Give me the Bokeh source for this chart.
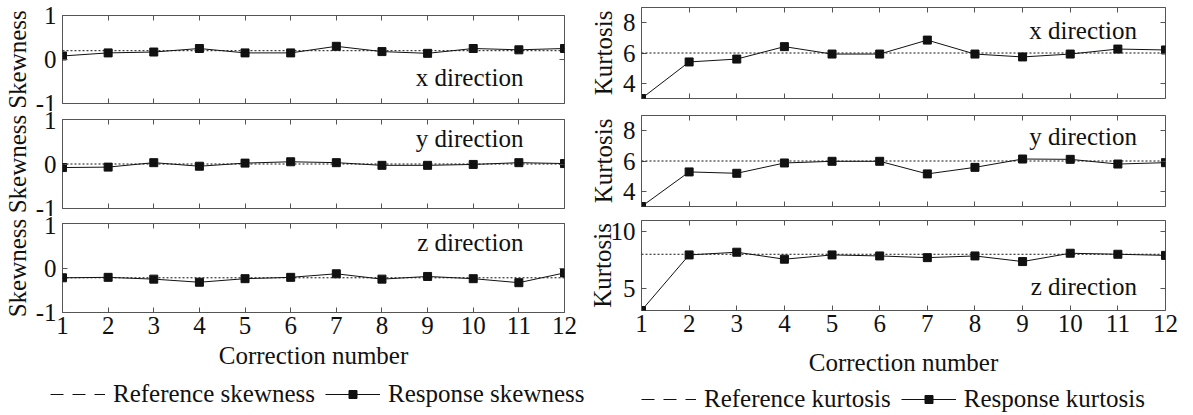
from bokeh.plotting import figure
from bokeh.models import (Range1d, FixedTicker, LinearAxis, Label, Legend,
                          LegendItem, Span)
from bokeh.layouts import row, column
from bokeh.embed import file_html
from bokeh.resources import INLINE

# ---------------- data ----------------
corrections = [1, 2, 3, 4, 5, 6, 7, 8, 9, 10, 11, 12]

skew_x = [0.08, 0.15, 0.17, 0.25, 0.15, 0.15, 0.30, 0.18, 0.14, 0.25, 0.22, 0.25]
skew_y = [-0.08, -0.07, 0.03, -0.05, 0.02, 0.05, 0.03, -0.03, -0.03, -0.01, 0.03, 0.01]
skew_z = [-0.22, -0.21, -0.25, -0.32, -0.24, -0.21, -0.13, -0.25, -0.19, -0.24, -0.33, -0.11]
skew_ref = [0.2, 0.0, -0.22]

kurt_x = [3.0, 5.41, 5.6, 6.42, 5.93, 5.93, 6.85, 5.93, 5.74, 5.93, 6.26, 6.2]
kurt_y = [3.0, 5.28, 5.19, 5.87, 5.98, 5.98, 5.15, 5.58, 6.13, 6.11, 5.8, 5.89]
kurt_z = [3.0, 7.94, 8.18, 7.56, 7.94, 7.85, 7.7, 7.85, 7.35, 8.09, 8.0, 7.9]
kurt_ref = [6, 6, 8]

skew_ticks = [-1, 0, 1]
kurt_ticks_xy = [4, 6, 8]
kurt_ticks_z = [5, 10]
directions = ["x direction", "y direction", "z direction"]
legend_skew = ["Reference skewness", "Response skewness"]
legend_kurt = ["Reference kurtosis", "Response kurtosis"]

FONT = "Liberation Serif"
FS = "25px"
INK = "#111111"
FRAME = "#555555"


def mirror_axis(ticks):
    return LinearAxis(ticker=FixedTicker(ticks=ticks),
                      major_label_text_font_size="1px",
                      major_label_text_color=None, major_label_standoff=0,
                      major_tick_in=5, major_tick_out=0,
                      minor_tick_line_color=None, axis_line_color=None,
                      major_tick_line_color=FRAME)


def panel(ys, ref, yr, yticks, ylabel, direction, tx, ty, width, height,
          mb, ylabel_standoff, bottom=False, xlabel_standoff=2):
    p = figure(width=width, height=height, x_range=Range1d(1, 12),
               y_range=Range1d(*yr), output_backend="svg",
               toolbar_location=None,
               min_border_left=mb[0], min_border_right=mb[1],
               min_border_top=mb[2], min_border_bottom=mb[3])
    p.grid.visible = False
    p.outline_line_color = FRAME
    p.outline_line_width = 1

    for ax in list(p.xaxis) + list(p.yaxis):
        ax.major_tick_in = 5
        ax.major_tick_out = 0
        ax.minor_tick_line_color = None
        ax.axis_line_color = None
        ax.major_tick_line_color = FRAME
        ax.major_label_text_font = FONT
        ax.major_label_text_font_size = FS
        ax.major_label_text_color = INK
        ax.axis_label_text_font = FONT
        ax.axis_label_text_font_size = FS
        ax.axis_label_text_font_style = "normal"
        ax.axis_label_text_color = INK

    p.xaxis.ticker = FixedTicker(ticks=corrections)
    p.yaxis.ticker = FixedTicker(ticks=yticks)
    p.yaxis.major_label_overrides = {t: str(t) for t in yticks}
    p.yaxis.major_label_standoff = 6
    p.yaxis.axis_label = ylabel
    p.yaxis.axis_label_standoff = ylabel_standoff

    if bottom:
        p.xaxis.major_label_standoff = 4
        p.xaxis.axis_label = "Correction number"
        p.xaxis.axis_label_standoff = xlabel_standoff
    else:
        p.xaxis.major_label_text_font_size = "1px"
        p.xaxis.major_label_text_color = None
        p.xaxis.major_label_standoff = 0

    p.add_layout(mirror_axis(corrections), "above")
    p.add_layout(mirror_axis(yticks), "right")

    p.add_layout(Span(location=ref, dimension="width", line_color=INK,
                      line_width=1, line_dash="2 2"))
    p.line(corrections, ys, line_color=INK, line_width=1)
    p.scatter(corrections, ys, marker="square", size=8, fill_color=INK,
              line_color=INK)

    p.add_layout(Label(x=tx, y=ty, text=direction, text_align="right",
                       text_baseline="alphabetic", text_font=FONT,
                       text_font_size=FS, text_color=INK))
    return p


LW, RW = 580, 613

L1 = panel(skew_x, skew_ref[0], (-1, 1), skew_ticks, "Skewness", directions[0],
           11.1, -0.40, LW, 111, (59, 16, 15, 8), 2)
L2 = panel(skew_y, skew_ref[1], (-1, 1), skew_ticks, "Skewness", directions[1],
           11.1, 0.57, LW, 105, (59, 16, 8, 8), 2)
L3 = panel(skew_z, skew_ref[2], (-1, 1), skew_ticks, "Skewness", directions[2],
           11.1, 0.57, LW, 162, (59, 16, 7, 66), 2, bottom=True,
           xlabel_standoff=5)

R1 = panel(kurt_x, kurt_ref[0], (3, 9), kurt_ticks_xy, "Kurtosis", directions[0],
           11.4, 7.5, RW, 106, (61, 28, 7, 8), 3)
R2 = panel(kurt_y, kurt_ref[1], (3, 9), kurt_ticks_xy, "Kurtosis", directions[1],
           11.4, 7.6, RW, 106, (61, 28, 9, 6), 3)
R3 = panel(kurt_z, kurt_ref[2], (3, 11), kurt_ticks_z, "Kurtosis", directions[2],
           11.4, 5.1, RW, 166, (61, 28, 8, 67), -8, bottom=True,
           xlabel_standoff=14)

# legend strip (the dummy renderers sit outside the visible y-range)
LF = figure(width=LW + RW, height=37, x_range=Range1d(0, 1),
            y_range=Range1d(0, 1), output_backend="svg",
            toolbar_location=None, x_axis_type=None, y_axis_type=None,
            min_border=0)
LF.outline_line_color = None
r_ref = LF.line(x=[0, 1], y=[-5, -5], line_color=INK, line_width=1,
                line_dash="13 9")
r_line = LF.line(x=[0, 1], y=[-5, -5], line_color=INK, line_width=1)
r_mark = LF.scatter(x=[0.5], y=[-5], marker="square", size=8,
                    fill_color=INK, line_color=INK)


def make_legend(labels, loc):
    return Legend(items=[LegendItem(label=labels[0], renderers=[r_ref]),
                         LegendItem(label=labels[1], renderers=[r_line, r_mark])],
                  location=loc, orientation="horizontal",
                  border_line_color=None, background_fill_alpha=0,
                  padding=0, margin=0, spacing=10, glyph_width=55,
                  glyph_height=20, label_height=20, label_standoff=8,
                  label_text_font=FONT, label_text_font_size=FS,
                  label_text_color=INK)


LF.add_layout(make_legend(legend_skew, (50, 7)))
LF.add_layout(make_legend(legend_kurt, (641, 2)))

layout = column(row(column(L1, L2, L3), column(R1, R2, R3)), LF)

open("out.html", "w").write(file_html(layout, INLINE))
